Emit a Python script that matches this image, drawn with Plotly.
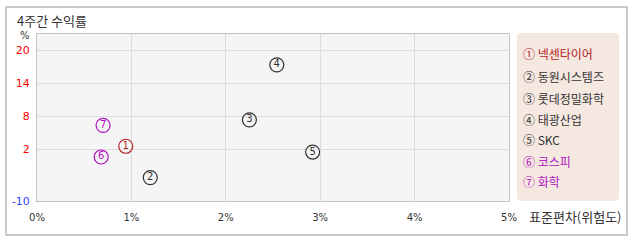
import plotly.graph_objects as go

# ---- data ----
names = ["넥센타이어", "동원시스템즈", "롯데정밀화학", "태광산업", "SKC", "코스피", "화학"]
marks = ["①", "②", "③", "④", "⑤", "⑥", "⑦"]
digits = ["1", "2", "3", "4", "5", "6", "7"]
risk = [0.94, 1.20, 2.25, 2.54, 2.92, 0.68, 0.70]      # 표준편차 (%)
ret = [2.5, -3.2, 7.3, 17.3, 1.45, 0.55, 6.3]           # 4주간 수익률 (%)
colors = ["#b22222", "#333333", "#333333", "#333333", "#333333", "#b010c0", "#b010c0"]

x_ticks = [0, 1, 2, 3, 4, 5]
x_tick_labels = ["0%", "1%", "2%", "3%", "4%", "5%"]
y_ticks = [20, 14, 8, 2]
y_tick_labels = ["20", "14", "8", "2"]
y_bottom_label = "-10"
y_range = [-7.45, 22.91]

FONT = "Noto Sans CJK KR"

fig = go.Figure()
for i in range(len(names)):
    fig.add_trace(go.Scatter(
        x=[risk[i]], y=[ret[i]], mode="markers+text",
        text=[digits[i]], textposition="middle center",
        textfont=dict(family="DejaVu Sans", size=10, color=colors[i]),
        marker=dict(symbol="circle-open", size=14, color=colors[i], line=dict(width=1.2, color=colors[i])),
        showlegend=False, hoverinfo="skip"))

yt_vals = y_ticks + [y_range[0]]
yt_text = [f"<span style='color:red'>{t}</span>" for t in y_tick_labels] + \
          [f"<span style='color:#3344ff'>{y_bottom_label}</span>"]

L, R, T, B = 37, 129, 34, 41
W, H = 638, 242
pw, ph = W - L - R, H - T - B

def px(xp):
    return (xp - L) / pw

def py(yp):
    return (H - B - yp) / ph

fig.update_layout(
    width=W, height=H, margin=dict(l=L, r=R, t=T, b=B),
    paper_bgcolor="white", plot_bgcolor="#f5f5f5",
    font=dict(family=FONT, size=11, color="#333"),
    xaxis=dict(range=[0, 5], tickvals=x_ticks, ticktext=x_tick_labels,
               showgrid=True, gridcolor="#dddddd", gridwidth=1, zeroline=False,
               showline=True, linecolor="#c4c4c4", mirror=True,
               ticks="outside", ticklen=7, tickcolor="rgba(0,0,0,0)",
               tickfont=dict(family="DejaVu Sans", size=10, color="#333")),
    yaxis=dict(range=y_range, tickvals=yt_vals, ticktext=yt_text,
               showgrid=True, gridcolor="#dddddd", gridwidth=1, zeroline=False,
               showline=True, linecolor="#c4c4c4", mirror=True,
               ticks="outside", ticklen=4, tickcolor="rgba(0,0,0,0)",
               tickfont=dict(family="DejaVu Sans", size=11)),
)

# outer border
fig.add_shape(type="rect", xref="paper", yref="paper",
              x0=px(6), x1=px(627), y0=py(235), y1=py(7),
              line=dict(color="#bbbbbb", width=1.5), fillcolor="rgba(0,0,0,0)", layer="below")

# legend box (rounded)
x0, x1, y0, y1 = px(517), px(619), py(201), py(33)
rx, ry = 5 / pw, 5 / ph
path = (f"M {x0+rx},{y1} L {x1-rx},{y1} Q {x1},{y1} {x1},{y1-ry} "
        f"L {x1},{y0+ry} Q {x1},{y0} {x1-rx},{y0} L {x0+rx},{y0} "
        f"Q {x0},{y0} {x0},{y0+ry} L {x0},{y1-ry} Q {x0},{y1} {x0+rx},{y1} Z")
fig.add_shape(type="path", xref="paper", yref="paper", path=path,
              fillcolor="#f5e8e1", line=dict(width=0), layer="below")

item_y = [54, 76, 98, 119, 139, 161, 181]
for i in range(len(names)):
    fig.add_annotation(xref="paper", yref="paper", x=px(521), y=py(item_y[i]),
                       xanchor="left", yanchor="middle", showarrow=False,
                       text=f"{marks[i]} {names[i]}",
                       font=dict(family=FONT, size=12, color=colors[i]))

# titles
fig.add_annotation(xref="paper", yref="paper", x=px(15), y=py(20), xanchor="left", yanchor="middle",
                   showarrow=False, text="4주간 수익률", font=dict(family=FONT, size=13, color="#333"))
fig.add_annotation(xref="paper", yref="paper", x=px(25), y=py(35), xanchor="center", yanchor="middle",
                   showarrow=False, text="%", font=dict(family="DejaVu Sans", size=10, color="#333"))
fig.add_annotation(xref="paper", yref="paper", x=px(527), y=py(216), xanchor="left", yanchor="middle",
                   showarrow=False, text="표준편차(위험도)", font=dict(family=FONT, size=13, color="#333"))

fig.write_html("out.html")
